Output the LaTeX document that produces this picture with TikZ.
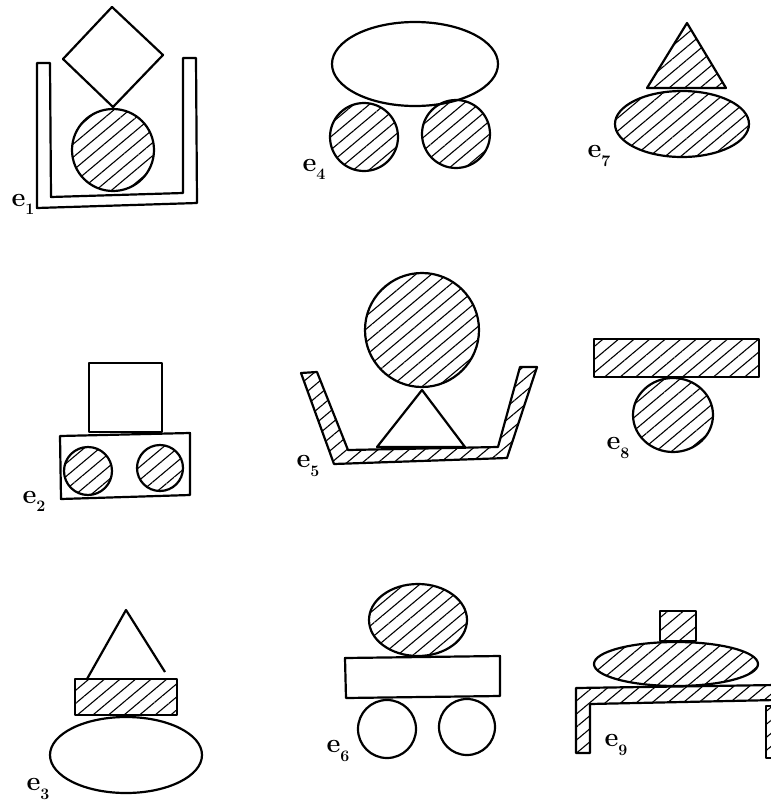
\documentclass[tikz,border=0pt]{standalone}
\usepackage{fontspec}
\usetikzlibrary{patterns.meta}
\newcommand\elab[1]{e\raisebox{-0.3em}{\fontsize{16}{16}\selectfont #1}}
\begin{document}
\begin{tikzpicture}[x=1pt,y=-1pt]
\tikzset{
 outl/.style={line width=2.2pt, line join=round},
 hatch/.style={outl, pattern={Lines[angle=40,distance=10pt,line width=1.1pt]}},
 lbl/.style={font=\fontsize{27}{28}\selectfont\bfseries, inner sep=0pt}
}
\useasboundingbox (0,0) rectangle (771,806);
\begin{scope}
\clip (0,0) rectangle (771,806);
% e1
\draw[outl] (112,7) -- (163,55) -- (113,107) -- (63,59) -- cycle;
\draw[hatch] (113,150) circle (41);
\draw[outl] (37,63) -- (50,63) -- (51,197) -- (183,193) -- (183,58) -- (196,58) -- (197,203) -- (37,208) -- cycle;
\node[lbl] (l1) at (23,204) {\elab{1}};
% e4
\draw[outl] (415,64) ellipse (83 and 42);
\draw[hatch] (364,137) circle (34);
\draw[hatch] (456,134) circle (34);
\node[lbl] (l4) at (314,169) {\elab{4}};
% e7
\draw[hatch] (687,23) -- (726,88) -- (647,88) -- cycle;
\draw[hatch] (682,124) ellipse (67 and 33);
\node[lbl] (l7) at (599,156) {\elab{7}};
% e2
\draw[outl] (89,363) rectangle (162,432);
\draw[outl] (60,436) -- (190,433) -- (190,495) -- (61,499) -- cycle;
\draw[hatch] (88,471) circle (24);
\draw[hatch] (160,468) circle (23);
\node[lbl] (l2) at (34,501) {\elab{2}};
% e5
\draw[hatch] (422,330) circle (57);
\draw[outl] (377,447) -- (422,390) -- (465,447) -- cycle;
\draw[hatch] (301,373) -- (334,464) -- (507,458) -- (537,367) -- (520,367) -- (498,447) -- (348,450) -- (317,372) -- cycle;
\node[lbl] (l5) at (308,466) {\elab{5}};
% e8
\draw[hatch] (594,339) rectangle (759,377);
\draw[hatch] (673,415) ellipse (40 and 37);
\node[lbl] (l8) at (618,448) {\elab{8}};
% e3
\draw[outl] (87,679) -- (126,610) -- (165,672);
\draw[hatch] (75,679) rectangle (177,715);
\draw[outl] (126,755) ellipse (76 and 38);
\node[lbl] (l3) at (38,789) {\elab{3}};
% e6
\draw[hatch] (418,620) ellipse (49 and 36);
\draw[outl] (345,658) -- (500,656) -- (500,696) -- (346,698) -- cycle;
\draw[outl] (387,729) circle (29);
\draw[outl] (467,727) circle (28);
\node[lbl] (l6) at (338,751) {\elab{6}};
% e9
\draw[hatch] (660,611) rectangle (696,641);
\draw[hatch] (676,664) ellipse (82 and 22);
\draw[hatch] (576,753) -- (576,688) -- (776,685) -- (776,700) -- (590,704) -- (590,753) -- cycle;
\draw[hatch] (776,706) -- (766,706) -- (766,758) -- (776,758);
\node[lbl] (l9) at (616,745) {\elab{9}};
\end{scope}
\end{tikzpicture}
\end{document}
